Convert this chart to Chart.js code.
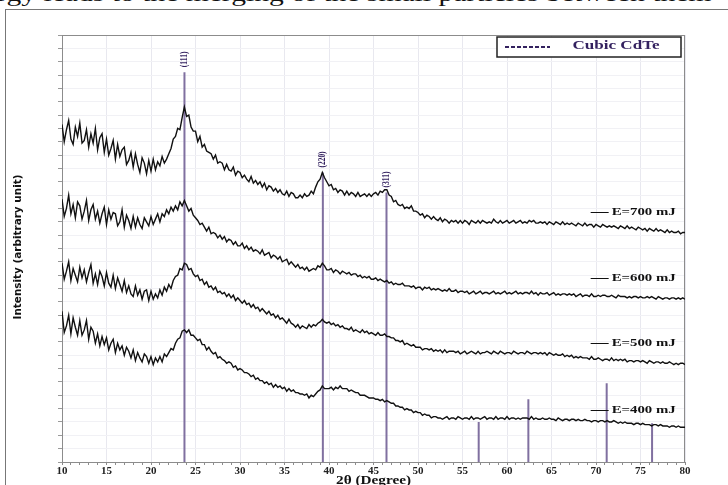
<!DOCTYPE html>
<html>
<head>
<meta charset="utf-8">
<script src="https://cdn.jsdelivr.net/npm/chart.js@4.4.1/dist/chart.umd.min.js"></script>
<style>
    html, body { margin: 0; padding: 0; background: #fff; width: 728px; height: 485px; overflow: hidden; }
    #wrap { position: relative; width: 728px; height: 485px; }
    #caption {
        position: absolute; left: -44px; top: -18px;
        font: 21px "Liberation Serif", "Times New Roman", serif;
        white-space: nowrap; transform-origin: 0 0; transform: scaleX(1.41); color: #111;
    }
    #frame { position: absolute; left: 5px; top: 9px; width: 760px; height: 520px; border: 1px solid #777; }
    canvas { position: absolute; left: 0; top: 0; }
</style>
</head>
<body>
<div id="wrap">
    <div id="caption">energy leads to the merging of the small particles between them</div>
    <div id="frame"></div>
    <canvas id="xrd" width="728" height="485"></canvas>
</div>
<script>
// --- Data (2θ from 10° to 80° every 0.25°) ---
const STEP = 0.25;
const X_MIN = 10;
const X_MAX = 80;

const e700 = [
    25.3,24.0,24.9,25.6, 24.2,23.8,25.1,24.4, 25.4,23.9,24.1,24.9, 23.6,24.6,23.9,25.0,
    23.4,24.3,24.6,23.2, 24.2,23.0,23.5,24.1, 22.7,23.8,22.9,23.4, 23.6,22.3,22.6,23.2,
    22.1,23.1,22.3,21.7, 22.8,22.4,21.6,22.6, 21.8,22.7,21.9,22.5, 22.2,22.9,22.4,22.7,
    23.1,23.5,24.2,24.4, 25.0,24.9,25.8,26.6, 25.9,26.0,25.1,24.8, 24.8,24.0,24.4,23.6,
    23.8,23.3,23.2,23.1, 22.7,23.0,22.4,22.5, 22.4,21.9,22.3,21.9, 21.8,22.1,21.5,21.8,
    21.7,21.3,21.5,21.2, 21.0,21.4,20.9,21.1, 20.8,21.0,20.6,20.9, 20.4,20.7,20.6,20.3,
    20.5,20.2,20.4,20.1, 20.0,20.3,19.9,20.2, 20.1,19.8,19.8,20.0, 19.8,20.1,19.9,20.0,
    20.3,20.1,20.6,21.0, 21.2,21.7,21.3,21.0, 20.7,20.8,20.4,20.5, 20.2,20.4,20.3,20.0,
    20.3,20.0,20.2,20.1, 19.9,20.2,19.9,20.0, 20.1,19.9,20.1,19.9, 20.1,20.2,20.0,20.3,
    20.2,20.4,20.4,20.0, 19.9,19.5,19.6,19.3, 19.2,19.3,19.0,19.1, 19.0,19.2,18.8,18.8,
    18.7,18.5,18.6,18.3, 18.5,18.4,18.2,18.4, 18.2,18.1,18.3,18.0, 18.2,18.1,17.9,18.1,
    18.0,18.1,17.9,18.1, 17.9,18.1,18.0,17.8, 18.1,18.0,17.9,18.1, 17.9,18.1,18.0,17.9,
    18.0,17.9,18.2,18.0, 17.9,18.1,17.9,18.0, 18.1,17.9,18.0,18.1, 17.9,18.0,18.1,17.9,
    18.0,17.9,18.1,18.0, 18.1,17.9,17.9,18.0, 17.9,18.0,17.8,18.0, 17.9,17.8,18.0,17.9,
    17.8,18.0,17.8,17.9, 17.8,17.9,17.8,17.7, 17.9,17.8,17.7,17.9, 17.7,17.8,17.8,17.6,
    17.8,17.7,17.6,17.8, 17.7,17.6,17.7,17.6, 17.7,17.6,17.5,17.7, 17.6,17.5,17.7,17.5,
    17.6,17.5,17.4,17.6, 17.5,17.4,17.5,17.3, 17.5,17.4,17.3,17.5, 17.3,17.4,17.3,17.2,
    17.4,17.2,17.3,17.2, 17.2,17.3,17.1,17.2, 17.2
];

const e600 = [
    19.7,18.4,19.0,20.0, 18.6,19.3,18.3,19.5, 19.2,18.2,18.8,19.6, 18.1,18.9,19.3,18.2,
    18.8,17.9,18.6,19.1, 17.8,18.9,18.2,18.7, 18.6,17.7,18.0,18.9, 17.6,18.5,18.1,17.5,
    18.4,17.6,18.3,17.8, 17.5,18.3,18.0,17.7, 18.4,17.8,18.2,18.6, 18.0,18.6,18.4,18.9,
    18.6,19.1,18.8,19.2, 18.9,19.5,19.2,19.6, 19.2,18.8,19.0,18.5, 18.3,18.1,17.8,17.9,
    17.6,17.3,17.6,17.1, 17.2,17.1,16.8,17.0, 16.7,16.9,16.5,16.7, 16.6,16.3,16.5,16.2,
    16.2,16.4,16.0,16.2, 15.9,16.1,15.8,15.9, 15.8,15.6,15.9,15.5, 15.6,15.7,15.3,15.5,
    15.4,15.2,15.4,15.0, 15.1,15.2,14.8,15.0, 14.8,14.6,14.8,14.5, 14.6,14.4,14.6,14.3,
    14.4,14.5,14.4,14.7, 14.6,14.9,14.7,14.4, 14.4,14.5,14.2,14.4, 14.3,14.1,14.3,14.2,
    14.1,14.2,14.0,14.1, 14.1,13.9,14.0,13.8, 13.9,13.8,13.9,13.7, 13.7,13.8,13.6,13.7,
    13.6,13.5,13.6,13.4, 13.5,13.3,13.4,13.3, 13.3,13.4,13.2,13.2, 13.2,13.1,13.2,13.0,
    13.1,13.1,12.9,13.1, 13.0,13.1,12.9,13.0, 12.9,13.0,12.9,12.8, 12.9,12.8,13.0,12.8,
    12.8,12.9,12.7,12.8, 12.8,12.7,12.8,12.6, 12.7,12.8,12.6,12.7, 12.8,12.6,12.7,12.7,
    12.6,12.7,12.8,12.6, 12.7,12.6,12.7,12.8, 12.6,12.7,12.6,12.7, 12.8,12.6,12.7,12.6,
    12.7,12.7,12.6,12.8, 12.6,12.7,12.5,12.7, 12.6,12.6,12.7,12.5, 12.6,12.7,12.5,12.6,
    12.5,12.6,12.6,12.5, 12.6,12.5,12.6,12.4, 12.5,12.6,12.4,12.5, 12.5,12.4,12.6,12.4,
    12.4,12.5,12.4,12.5, 12.5,12.4,12.4,12.5, 12.4,12.3,12.5,12.4, 12.4,12.4,12.3,12.4,
    12.3,12.4,12.4,12.3, 12.4,12.3,12.3,12.4, 12.3,12.4,12.3,12.2, 12.4,12.3,12.2,12.3,
    12.3,12.2,12.3,12.3, 12.2,12.3,12.2,12.3, 12.2
];

const e500 = [
    14.9,13.7,14.3,15.0, 13.6,14.5,14.0,13.5, 14.6,13.8,14.4,13.5, 14.2,14.8,13.4,14.1,
    13.3,14.3,13.9,13.2, 14.2,13.4,13.1,14.0, 13.0,13.8,13.3,12.8, 13.6,12.7,13.2,12.6,
    12.4,13.2,12.5,12.9, 12.2,12.8,12.9,12.1, 12.8,12.2,12.6,12.3, 12.9,12.5,13.1,12.8,
    13.3,13.0,13.6,13.9, 14.0,14.5,14.4,14.9, 14.8,14.4,14.5,14.1, 13.9,14.0,13.6,13.7,
    13.3,13.5,13.1,13.2, 12.9,13.1,12.7,12.8, 12.6,12.7,12.4,12.6, 12.3,12.5,12.1,12.3,
    12.1,11.9,12.1,11.8, 11.9,11.6,11.8,11.5, 11.6,11.3,11.5,11.3, 11.1,11.3,11.0,11.1,
    10.8,11.0,10.7,10.8, 10.6,10.4,10.7,10.4, 10.3,10.1,10.3,10.0, 10.2,10.1,10.0,10.3,
    10.1,10.3,10.2,10.4, 10.5,10.7,10.5,10.4, 10.5,10.3,10.4,10.2, 10.3,10.1,10.2,10.0,
    10.0,9.9,10.1,9.8, 9.9,9.8,9.7,9.9, 9.7,9.8,9.6,9.7, 9.6,9.5,9.7,9.5,
    9.5,9.6,9.4,9.4, 9.3,9.3,9.1,9.1, 9.0,9.1,8.8,8.9, 8.8,8.7,8.8,8.6,
    8.6,8.6,8.4,8.5, 8.5,8.4,8.5,8.3, 8.4,8.3,8.4,8.2, 8.4,8.2,8.3,8.3,
    8.3,8.2,8.3,8.1, 8.2,8.3,8.1,8.2, 8.3,8.2,8.1,8.3, 8.1,8.2,8.2,8.3,
    8.2,8.1,8.3,8.2, 8.1,8.3,8.2,8.1, 8.2,8.2,8.1,8.3, 8.2,8.1,8.2,8.2,
    8.1,8.3,8.2,8.1, 8.2,8.2,8.1,8.2, 8.1,8.2,8.0,8.2, 8.1,8.0,8.1,8.0,
    8.0,8.1,7.9,8.0, 7.9,8.0,7.8,7.9, 7.8,7.9,7.8,7.8, 7.8,7.7,7.9,7.7,
    7.7,7.8,7.7,7.6, 7.7,7.7,7.6,7.8, 7.6,7.7,7.6,7.7, 7.6,7.7,7.5,7.6,
    7.6,7.5,7.6,7.6, 7.5,7.6,7.5,7.4, 7.6,7.5,7.4,7.5, 7.5,7.4,7.5,7.4,
    7.4,7.5,7.4,7.3, 7.4,7.3,7.4,7.4, 7.3
];

const e400 = [
    11.3,9.7,10.2,11.0, 9.6,10.8,10.1,9.5, 10.6,9.5,9.9,10.6, 9.2,10.1,9.8,8.9,
    9.6,8.7,9.4,8.8, 9.3,8.4,8.9,9.2, 8.2,8.9,8.4,8.7, 8.0,8.6,8.3,7.8,
    8.4,7.6,8.2,7.8, 7.5,8.1,7.9,7.4, 7.9,7.3,7.8,7.5, 7.9,7.5,8.1,7.9,
    8.2,8.5,8.4,8.9, 9.2,9.3,9.8,9.9, 9.7,9.9,9.5,9.5, 9.3,9.1,9.2,8.8,
    8.8,8.4,8.6,8.3, 8.1,8.2,7.8,7.9, 7.7,7.6,7.4,7.5, 7.4,7.1,7.2,6.9,
    7.0,6.9,6.7,6.7, 6.6,6.4,6.5,6.2, 6.3,6.1,6.1,5.9, 6.0,5.8,5.9,5.6,
    5.8,5.6,5.7,5.5, 5.6,5.3,5.5,5.3, 5.4,5.2,5.2,5.1, 5.1,5.0,5.1,4.8,
    5.0,4.9,5.1,5.3, 5.4,5.7,5.5,5.5, 5.5,5.6,5.4,5.6, 5.5,5.7,5.5,5.5,
    5.5,5.3,5.4,5.3, 5.2,5.2,5.0,5.0, 5.0,4.9,4.8,4.8, 4.8,4.7,4.7,4.6,
    4.7,4.5,4.6,4.5, 4.4,4.4,4.2,4.2, 4.1,4.1,3.9,4.0, 3.9,3.9,3.7,3.8,
    3.7,3.7,3.5,3.6, 3.5,3.5,3.3,3.4, 3.4,3.3,3.3,3.2, 3.3,3.4,3.2,3.3,
    3.3,3.2,3.4,3.3, 3.2,3.3,3.3,3.2, 3.4,3.2,3.3,3.3, 3.2,3.3,3.4,3.2,
    3.3,3.3,3.2,3.4, 3.2,3.3,3.3,3.2, 3.4,3.2,3.3,3.3, 3.2,3.3,3.2,3.3,
    3.3,3.3,3.2,3.4, 3.2,3.3,3.2,3.2, 3.3,3.2,3.2,3.3, 3.2,3.2,3.1,3.3,
    3.2,3.1,3.2,3.2, 3.1,3.2,3.2,3.1, 3.2,3.1,3.1,3.2, 3.1,3.1,3.0,3.1,
    3.1,3.0,3.1,3.1, 3.0,3.1,3.0,3.0, 3.1,3.0,2.9,3.0, 2.9,3.0,2.9,2.9,
    2.9,2.8,2.9,2.9, 2.8,2.9,2.8,2.8, 2.8,2.7,2.8,2.8, 2.7,2.8,2.7,2.7,
    2.7,2.6,2.7,2.7, 2.6,2.7,2.6,2.6, 2.6
];

const seriesNames = ['E=700 mJ', 'E=600 mJ', 'E=500 mJ', 'E=400 mJ'];

// Cubic CdTe reference pattern
const refPeaks = [23.76, 39.31, 46.46, 56.82, 62.40, 71.20, 76.30];
const refHeights = [29.2, 21.7, 20.2, 3.0, 4.7, 5.9, 2.9];
const refLabels = ['(111)', '(220)', '(311)', '', '', '', ''];

const xTickLabels = [10, 15, 20, 25, 30, 35, 40, 45, 50, 55, 60, 65, 70, 75, 80];

// --- Helpers ---
const twoTheta = e700.map((_, i) => X_MIN + i * STEP);
const toPoints = arr => arr.map((v, i) => ({ x: twoTheta[i], y: v }));

const refPoints = [];
refPeaks.forEach((p, i) => {
    refPoints.push({ x: p, y: 0 }, { x: p, y: refHeights[i] }, { x: p, y: null });
});

// draw text stretched to a given width (the figure's lettering is wide)
function fitText(ctx, text, cx, cy, font, width, color, rot) {
    ctx.save();
    ctx.font = font;
    ctx.fillStyle = color;
    ctx.textAlign = 'center';
    ctx.textBaseline = 'middle';
    const w = ctx.measureText(text).width;
    ctx.translate(cx, cy);
    if (rot) ctx.rotate(rot);
    ctx.scale(width / w, 1);
    ctx.fillText(text, 0, 0);
    ctx.restore();
}

const SERIF = '"Liberation Serif", "Times New Roman", serif';
const LABEL_Y = [18.7, 13.8, 8.9, 3.9]; // where the E=... tags sit
const PURPLE = 'rgb(128, 112, 160)';
const INK = '#33215f';

const decorations = {
    id: 'decorations',
    beforeDatasetsDraw(chart) {
        const { ctx, chartArea: a } = chart;
        ctx.save();
        ctx.strokeStyle = '#8c8c8c';
        ctx.lineWidth = 1;
        ctx.strokeRect(a.left + 0.5, a.top + 0.5, a.right - a.left - 1, a.bottom - a.top);
        ctx.restore();
    },
    afterDatasetsDraw(chart) {
        const { ctx, chartArea: a, scales: { x, y } } = chart;

        // peak indices
        refPeaks.forEach((p, i) => {
            if (!refLabels[i]) return;
            fitText(ctx, refLabels[i], x.getPixelForValue(p), y.getPixelForValue(refHeights[i]) - 13,
                'bold 10px ' + SERIF, 16, INK, -Math.PI / 2);
        });

        // series tags
        const lx = x.getPixelForValue(69.4);
        seriesNames.forEach((name, i) => {
            const py = Math.round(y.getPixelForValue(LABEL_Y[i])) + 0.5;
            ctx.save();
            ctx.strokeStyle = '#111';
            ctx.lineWidth = 1;
            ctx.beginPath();
            ctx.moveTo(lx, py);
            ctx.lineTo(lx + 18, py);
            ctx.stroke();
            ctx.restore();
            fitText(ctx, name, lx + 21 + 32, py, 'bold 11px ' + SERIF, 64, '#111');
        });

        // legend box
        const bx = a.right - 188, by = a.top + 2, bw = 184, bh = 20;
        ctx.save();
        ctx.fillStyle = '#fff';
        ctx.fillRect(bx, by, bw, bh);
        ctx.strokeStyle = '#222';
        ctx.lineWidth = 1.5;
        ctx.strokeRect(bx, by, bw, bh);
        ctx.strokeStyle = INK;
        ctx.lineWidth = 2;
        ctx.setLineDash([4, 2]);
        ctx.beginPath();
        ctx.moveTo(bx + 8, by + 10);
        ctx.lineTo(bx + 53, by + 10);
        ctx.stroke();
        ctx.restore();
        fitText(ctx, 'Cubic CdTe', bx + 119, by + 9, 'bold 12px ' + SERIF, 87, INK);

        // axis titles
        fitText(ctx, '2θ (Degree)', (a.left + a.right) / 2, 481, 'bold 12px ' + SERIF, 75, '#111');
        fitText(ctx, 'Intensity (arbitrary unit)', 18, 247,
            'bold 11px "Liberation Sans Narrow", "DejaVu Sans Condensed", "Liberation Sans", sans-serif', 145, '#111', -Math.PI / 2);
    },
};

// --- Chart ---
const lineStyle = {
    borderColor: '#111',
    borderWidth: 1.4,
    pointRadius: 0,
    tension: 0,
    fill: false,
};

new Chart(document.getElementById('xrd'), {
    type: 'line',
    data: {
        datasets: [
            { label: seriesNames[0], data: toPoints(e700), ...lineStyle },
            { label: seriesNames[1], data: toPoints(e600), ...lineStyle },
            { label: seriesNames[2], data: toPoints(e500), ...lineStyle },
            { label: seriesNames[3], data: toPoints(e400), ...lineStyle },
            {
                label: 'Cubic CdTe',
                data: refPoints,
                borderColor: PURPLE,
                borderWidth: 2,
                pointRadius: 0,
                spanGaps: false,
                order: 10,
            },
        ],
    },
    options: {
        responsive: false,
        devicePixelRatio: 1,
        animation: false,
        layout: { padding: { top: 35, right: 43, left: 0, bottom: 0 } },
        plugins: { legend: { display: false }, tooltip: { enabled: false } },
        scales: {
            x: {
                type: 'linear',
                min: X_MIN,
                max: X_MAX,
                afterFit: s => { s.height = 23; },
                border: { color: '#8c8c8c' },
                grid: {
                    color: c => xTickLabels.includes(c.tick.value) ? '#e8e8ef' : 'rgba(0,0,0,0)',
                    tickColor: '#8c8c8c',
                    tickLength: 3,
                },
                ticks: {
                    stepSize: 1,
                    autoSkip: false,
                    maxRotation: 0,
                    padding: 0,
                    color: '#222',
                    font: { family: SERIF, size: 11, weight: 'bold' },
                    callback: v => xTickLabels.includes(v) ? String(v) : '',
                },
            },
            y: {
                min: 0,
                max: 32,
                afterFit: s => { s.width = 62; },
                border: { color: '#8c8c8c' },
                grid: { color: '#f1f1f5', tickColor: '#9a9a9a', tickLength: 4 },
                ticks: { stepSize: 1, display: false },
            },
        },
    },
    plugins: [decorations],
});
</script>
</body>
</html>
